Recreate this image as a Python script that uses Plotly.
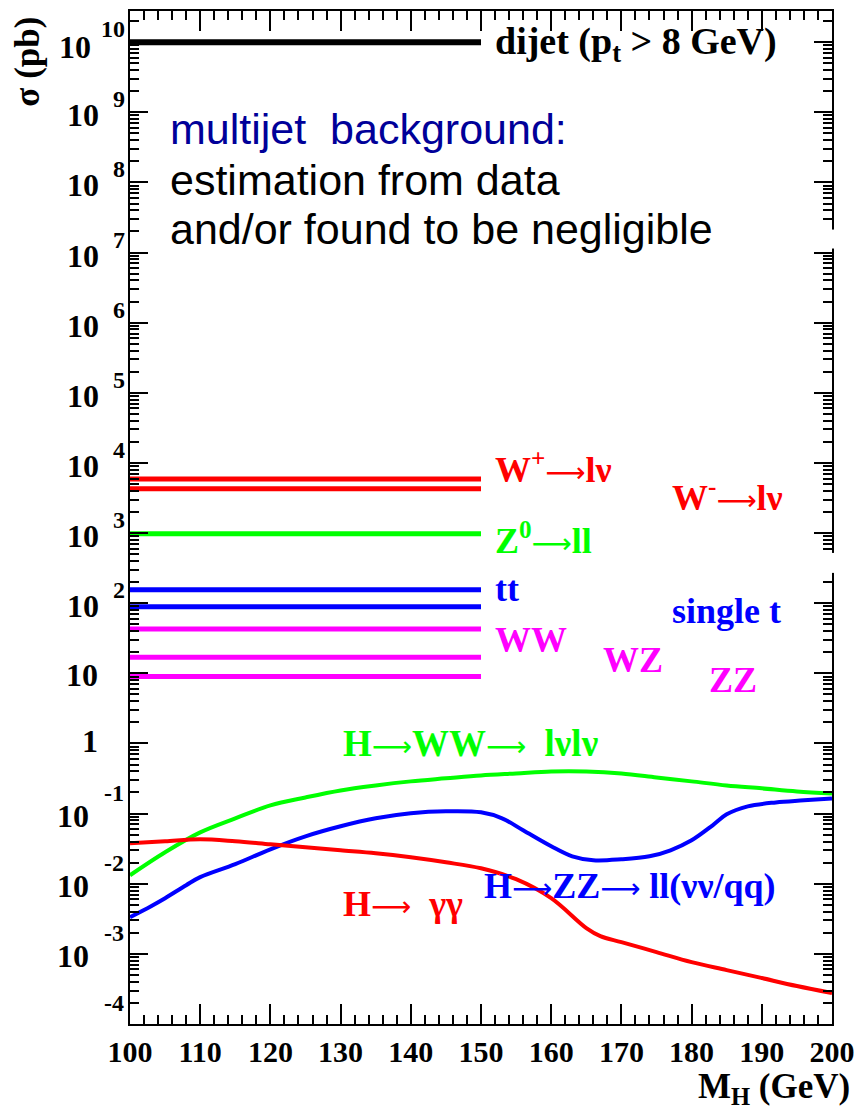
import plotly.graph_objects as go

# ---------------- data ----------------
bkg_names = ["dijet", "W+", "W-", "Z0", "tt", "single t", "WW", "WZ", "ZZ"]
bkg_xsec = [1.0e10, 5900, 4300, 980, 155, 89, 43, 17, 9.0]
bkg_mass_range = [100, 150]

mh_ww = [100, 105, 110, 115, 120, 125, 130, 135, 140, 145, 150, 155, 160, 165,
         170, 175, 180, 185, 190, 195, 200]
xs_ww = [0.0132, 0.0281, 0.054, 0.0855, 0.131, 0.170, 0.214, 0.252, 0.288, 0.318,
         0.350, 0.374, 0.399, 0.399, 0.374, 0.328, 0.288, 0.252, 0.229, 0.207, 0.194]

mh_zz = [100, 103, 105, 108, 110, 115, 120, 125, 130, 135, 140, 145, 150, 153, 156,
         160, 163, 166, 170, 174, 177, 180, 183, 185, 188, 192, 196, 200]
xs_zz = [0.00334, 0.00479, 0.00622, 0.00953, 0.0124, 0.0190, 0.0310, 0.0474, 0.0659,
         0.0856, 0.1009, 0.1077, 0.1042, 0.0856, 0.0578, 0.0342, 0.0246, 0.0216,
         0.0223, 0.0246, 0.0300, 0.0416, 0.0681, 0.0976, 0.1268, 0.1445, 0.1545, 0.1648]

mh_gg = [100, 105, 110, 115, 120, 125, 130, 135, 140, 145, 150, 155, 160, 165, 167,
         170, 175, 180, 185, 190, 195, 200]
xs_gg = [0.0377, 0.0403, 0.0430, 0.0403, 0.0365, 0.0331, 0.0300, 0.0272, 0.0238,
         0.0202, 0.0166, 0.0116, 0.00622, 0.00233, 0.00179, 0.00147, 0.00106,
         0.000763, 0.000587, 0.000452, 0.000348, 0.000276]

x_ticks = list(range(100, 201, 10))
y_exponents = list(range(-4, 11))

# ---------------- geometry / style ----------------
W, H = 864, 1110
L, R, T, B = 130, 837, 9, 1024
X0, X1 = 100, 200
Y0, Y1 = -4, 10.444

RED, GREEN, BLUE, MAG = "#ff0000", "#00ff00", "#0000ff", "#ff00ff"
SERIF = "Liberation Serif"
SANS = "Liberation Sans"
ARROW = '<span style="font-family:DejaVu Sans;font-weight:normal;font-size:28px">\u27f6</span>'


def xd(px):
    return X0 + (px - L) / (R - L) * (X1 - X0)


def yd(py):
    return Y0 + (B - py) / (B - T) * (Y1 - Y0)


def ypx(logv):
    return B - (logv - Y0) / (Y1 - Y0) * (B - T)


fig = go.Figure()

bkg_colors = ["black", RED, RED, GREEN, BLUE, BLUE, MAG, MAG, MAG]
for name, v, c in zip(bkg_names, bkg_xsec, bkg_colors):
    fig.add_trace(go.Scatter(x=bkg_mass_range, y=[v, v], mode="lines",
                             line=dict(color=c, width=6 if name == "dijet" else 5),
                             name=name, showlegend=False, hoverinfo="skip"))

for mx, ys, c in [(mh_ww, xs_ww, GREEN), (mh_zz, xs_zz, BLUE), (mh_gg, xs_gg, RED)]:
    fig.add_trace(go.Scatter(x=mx, y=ys, mode="lines", line=dict(color=c, width=4, shape="spline"),
                             showlegend=False, hoverinfo="skip"))

ann = []


def label(text, left_px, cy_px, color, size=36, family=SERIF, bold=True, anchor="left"):
    ann.append(dict(x=xd(left_px), y=yd(cy_px), xref="x", yref="y", text=text,
                    showarrow=False, xanchor=anchor, yanchor="middle",
                    font=dict(family=family, size=size, color=color,
                              weight="bold" if bold else "normal")))


label("dijet (p<sub>t</sub> > 8 GeV)", 496, 42, "black", size=38)
label("W<sup>+</sup>" + ARROW + "l\u03bd", 496, 466, RED)
label("W<sup>-</sup>" + ARROW + "l\u03bd", 674, 494, RED)
label("Z<sup>0</sup>" + ARROW + "ll", 496, 538, GREEN)
label("tt", 496, 588, BLUE)
label("single t", 674, 610, BLUE)
label("WW", 496, 639, MAG)
label("WZ", 604, 659, MAG)
label("ZZ", 711, 679, MAG)
label("H" + ARROW + "WW" + ARROW + "\u00a0 l\u03bdl\u03bd", 342, 743, GREEN, size=37)
label("H" + ARROW + "ZZ" + ARROW + " ll(\u03bd\u03bd/qq)", 484, 886, BLUE)
label("H" + ARROW + "\u00a0 \u03b3\u03b3", 342, 904, RED)

label("multijet\u00a0 background:", 168, 127, "#000099", size=43, family=SANS, bold=False)
label("estimation from data", 168, 178, "black", size=43, family=SANS, bold=False)
label("and/or found to be negligible", 168, 227, "black", size=43, family=SANS, bold=False)

# y tick labels (ROOT style 10^n)
for n in y_exponents:
    tp = ypx(n)
    if n == 0:
        base, bx, by = "1", 100, tp - 2
    elif n == 1:
        base, bx, by = "10", 100, tp + 2
    elif n < 0:
        base, bx, by = "10", 91, tp + 2
    elif n == 10:
        base, bx, by = "10", 93, tp + 5
    else:
        base, bx, by = "10", 101, tp + 3
    ann.append(dict(x=(bx - L) / (R - L), y=n + (tp - by) / (B - T) * (Y1 - Y0),
                    xref="paper", yref="y", text=base, showarrow=False,
                    xanchor="right", yanchor="middle",
                    font=dict(family=SERIF, size=32, color="black", weight="bold")))
    if n >= 2 or n < 0:
        ex = 102 if n < 0 else (99 if n == 10 else 111)
        ey = tp - 21 if n < 0 else tp - 13
        ann.append(dict(x=(ex - L) / (R - L), y=n + (tp - ey) / (B - T) * (Y1 - Y0),
                        xref="paper", yref="y", text=str(n), showarrow=False,
                        xanchor="left", yanchor="middle",
                        font=dict(family=SERIF, size=24, color="black", weight="bold")))

# axis titles
ann.append(dict(x=(27 - L) / (R - L), y=(B - 60) / (B - T), xref="paper", yref="paper",
                text="\u03c3 (pb)", textangle=-90, showarrow=False,
                xanchor="center", yanchor="middle",
                font=dict(family=SERIF, size=35, color="black", weight="bold")))
ann.append(dict(x=(857 - L) / (R - L), y=(B - 1089) / (B - T), xref="paper", yref="paper",
                text="M<sub>H</sub> (GeV)", showarrow=False,
                xanchor="right", yanchor="middle",
                font=dict(family=SERIF, size=35, color="black", weight="bold")))

shapes = []
for y_top, y_bot in [(228, 247), (552, 572)]:
    shapes.append(dict(type="rect", xref="paper", yref="paper",
                       x0=(818 - L) / (R - L), x1=(850 - L) / (R - L),
                       y0=(B - y_bot) / (B - T), y1=(B - y_top) / (B - T),
                       fillcolor="white", line=dict(width=0), layer="above"))

fig.update_layout(
    width=W, height=H,
    margin=dict(l=L, r=W - R, t=T, b=H - B),
    paper_bgcolor="white", plot_bgcolor="white",
    annotations=ann, shapes=shapes,
    xaxis=dict(range=[X0, X1], tickvals=x_ticks, ticks="inside", ticklen=20, tickwidth=2,
               tickcolor="black", showline=True, linewidth=2, linecolor="black",
               mirror="ticks", showgrid=False, zeroline=False,
               tickfont=dict(family=SERIF, size=30, color="black", weight="bold"),
               minor=dict(ticks="inside", ticklen=9, tickwidth=2, dtick=2,
                          tickcolor="black", showgrid=False)),
    yaxis=dict(type="log", range=[Y0, Y1], dtick=1, ticks="inside", ticklen=18, tickwidth=2,
               tickcolor="black", showline=True, linewidth=2, linecolor="black",
               mirror="ticks", showgrid=False, zeroline=False, showticklabels=False,
               minor=dict(ticks="inside", ticklen=9, tickwidth=1.5, dtick="D1",
                          tickcolor="black", showgrid=False)),
)

fig.write_html("out.html")
